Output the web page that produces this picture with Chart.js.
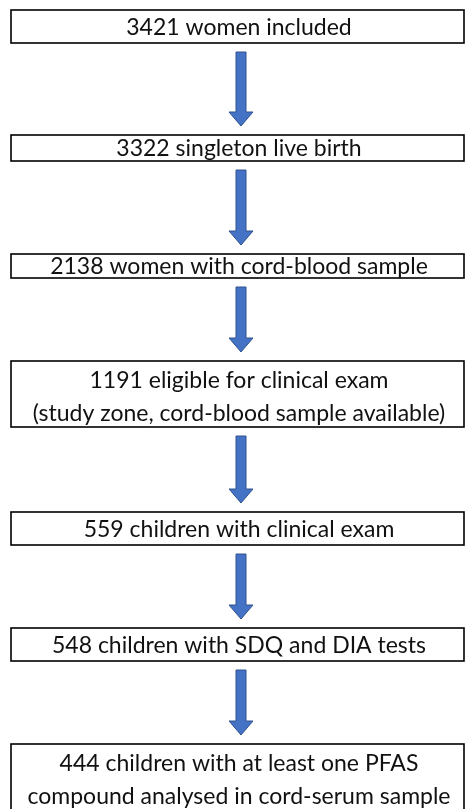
<!DOCTYPE html>
<html lang="en">
<head>
    <meta charset="UTF-8">
    <title>Study Flowchart</title>
    <script src="https://cdn.jsdelivr.net/npm/chart.js"></script>
    <style>
        html, body { margin: 0; padding: 0; background: #fff; }
        #wrap { width: 465px; height: 809px; }
    </style>
</head>
<body>
    <div id="wrap"><canvas id="flowChart" width="465" height="809"></canvas></div>

    <script>
        // flowchart steps: participant counts and the text of each box
        const counts = [3421, 3322, 2138, 1191, 559, 548, 444];
        const labels = [
            ['women included'],
            ['singleton live birth'],
            ['women with cord-blood sample'],
            ['eligible for clinical exam', '(study zone, cord-blood sample available)'],
            ['children with clinical exam'],
            ['children with SDQ and DIA tests'],
            ['children with at least one PFAS', 'compound analysed in cord-serum sample']
        ];

        // box layout on the hidden y axis (top, bottom)
        const boxTops = [10, 135, 254, 361, 512, 628, 744];
        const boxBottoms = [43, 161, 278, 427, 545, 661, 830];

        const flowPlugin = {
            id: 'flow',
            afterDraw(chart) {
                const ctx = chart.ctx;
                const xs = chart.scales.x, ys = chart.scales.y;
                const left = xs.getPixelForValue(11), right = xs.getPixelForValue(464);
                const cx = xs.getPixelForValue(239);
                const ax = xs.getPixelForValue(241);
                ctx.save();
                ctx.font = '23px Lato, "Open Sans", sans-serif';
                ctx.textAlign = 'center';
                ctx.textBaseline = 'middle';

                counts.forEach((n, i) => {
                    const top = ys.getPixelForValue(boxTops[i]);
                    const bot = ys.getPixelForValue(boxBottoms[i]);
                    ctx.fillStyle = '#fff';
                    ctx.fillRect(left, top, right - left, bot - top);
                    ctx.strokeStyle = '#000';
                    ctx.lineWidth = 1.6;
                    ctx.strokeRect(left, top, right - left, bot - top);

                    const lines = labels[i].slice();
                    lines[0] = n + ' ' + lines[0];
                    ctx.fillStyle = '#111';
                    if (lines.length === 1) {
                        ctx.fillText(lines[0], cx, (top + bot) / 2 + 1);
                    } else {
                        ctx.fillText(lines[0], cx, top + 20);
                        ctx.fillText(lines[1], cx, top + 53);
                    }

                    // arrow to next box
                    if (i < counts.length - 1) {
                        const a0 = ys.getPixelForValue(boxBottoms[i] + 9);
                        const a1 = ys.getPixelForValue(boxTops[i + 1] - 9);
                        const headStart = a1 - 14;
                        ctx.beginPath();
                        ctx.moveTo(ax - 5, a0);
                        ctx.lineTo(ax + 5, a0);
                        ctx.lineTo(ax + 5, headStart);
                        ctx.lineTo(ax + 12, headStart);
                        ctx.lineTo(ax, a1);
                        ctx.lineTo(ax - 12, headStart);
                        ctx.lineTo(ax - 5, headStart);
                        ctx.closePath();
                        ctx.fillStyle = '#4472C4';
                        ctx.fill();
                        ctx.strokeStyle = '#2F528F';
                        ctx.lineWidth = 1;
                        ctx.stroke();
                    }
                });
                ctx.restore();
            }
        };

        new Chart(document.getElementById('flowChart').getContext('2d'), {
            type: 'scatter',
            data: { datasets: [{ data: [] }] },
            options: {
                responsive: false,
                animation: false,
                layout: { padding: 0 },
                plugins: { legend: { display: false }, tooltip: { enabled: false } },
                scales: {
                    x: { type: 'linear', min: 0, max: 465, display: false },
                    y: { type: 'linear', min: 0, max: 809, reverse: true, display: false }
                }
            },
            plugins: [flowPlugin]
        });
    </script>
</body>
</html>
